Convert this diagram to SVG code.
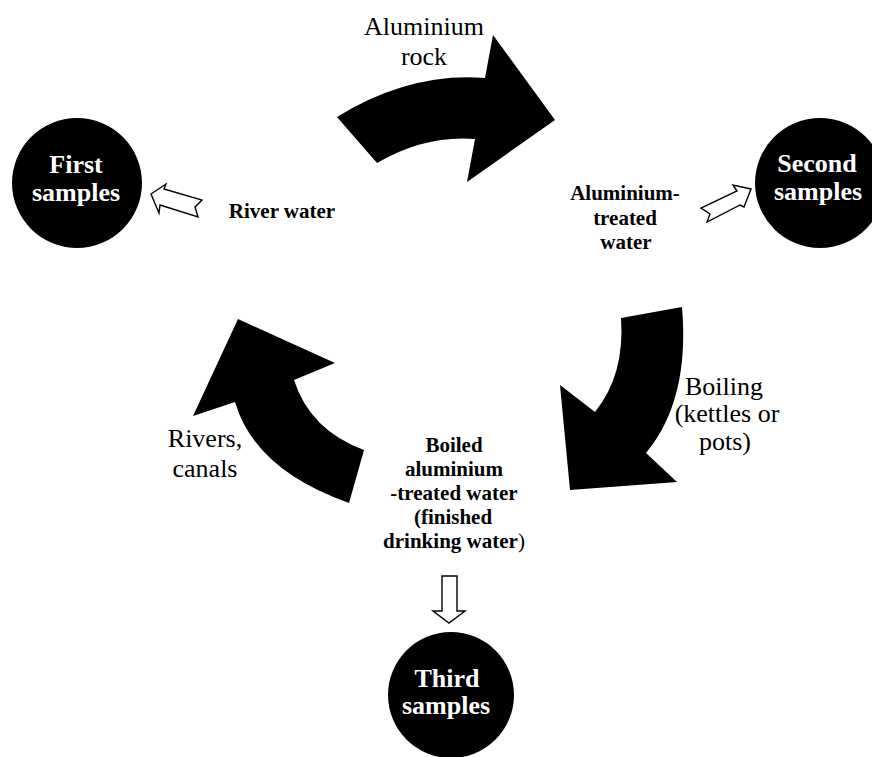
<svg xmlns="http://www.w3.org/2000/svg" width="872" height="757" viewBox="0 0 872 757">
<style>
.bg{fill:#fff}
.node circle{fill:#000}
.nt{font-family:"Liberation Serif","Times New Roman",serif;font-weight:bold;font-size:26px;fill:#fff;text-anchor:middle}
.lbl{font-family:"Liberation Serif","Times New Roman",serif;font-size:26px;fill:#000;text-anchor:middle}
.blbl{font-family:"Liberation Serif","Times New Roman",serif;font-weight:bold;font-size:21px;fill:#000;text-anchor:middle}
.big{fill:#000;stroke:none}
.hollow{fill:#fff;stroke:#000;stroke-width:1.4;stroke-linejoin:miter}
</style>
<rect class="bg" x="0" y="0" width="872" height="757"/>
<g id="connectors">
<path class="big" d="M337,117 Q410,72 485,78 L493,35 L555,120 L467,182 L475,139 Q425,135 377,163 Z"/>
<path class="big" d="M621,318 L682,307 Q690,400 646,453 L677,482 L570,490 L560,385 L595,412 Q625,375 621,318 Z"/>
<path class="big" d="M238,319 L335,363 L294,380 Q310,430 364,450 L349,503 Q255,470 235,402 L193,416 Z"/>
<path class="hollow" d="M151,194 L166,184 L164,189 L202,200 L195,207 L198,217 L160,205 L159,213 Z"/>
<path class="hollow" d="M751,189 L733,185 L737,191 L701,208 L710,214 L707,222 L740,205 L744,207 Z"/>
<path class="hollow" d="M442,576 L457,576 L457,611 L465,611 L449,623 L433,611 L442,611 Z"/>
</g>
<g id="node-first" class="node">
<circle cx="77" cy="183" r="65"/>
<text class="nt" x="76" y="173">First</text>
<text class="nt" x="76" y="201">samples</text>
</g>
<g id="node-second" class="node">
<circle cx="820" cy="183" r="65"/>
<text class="nt" x="817" y="172">Second</text>
<text class="nt" x="818" y="200">samples</text>
</g>
<g id="node-third" class="node">
<circle cx="451" cy="695" r="63"/>
<text class="nt" x="447" y="687">Third</text>
<text class="nt" x="446" y="714">samples</text>
</g>
<g id="labels">
<text class="lbl" x="424" y="35">Aluminium</text>
<text class="lbl" x="424" y="65">rock</text>
<text class="blbl" x="282" y="218">River water</text>
<text class="blbl" x="625" y="200">Aluminium-</text>
<text class="blbl" x="625" y="225">treated</text>
<text class="blbl" x="626" y="249">water</text>
<text class="lbl" x="724" y="395">Boiling</text>
<text class="lbl" x="727" y="422">(kettles or</text>
<text class="lbl" x="725" y="450">pots)</text>
<text class="lbl" x="205" y="447">Rivers,</text>
<text class="lbl" x="205" y="477">canals</text>
<text class="blbl" x="454" y="452">Boiled</text>
<text class="blbl" x="454" y="476">aluminium</text>
<text class="blbl" x="454" y="500">-treated water</text>
<text class="blbl" x="453" y="524">(finished</text>
<text class="blbl" x="454" y="548">drinking water<tspan font-weight="normal">)</tspan></text>
</g>
</svg>
